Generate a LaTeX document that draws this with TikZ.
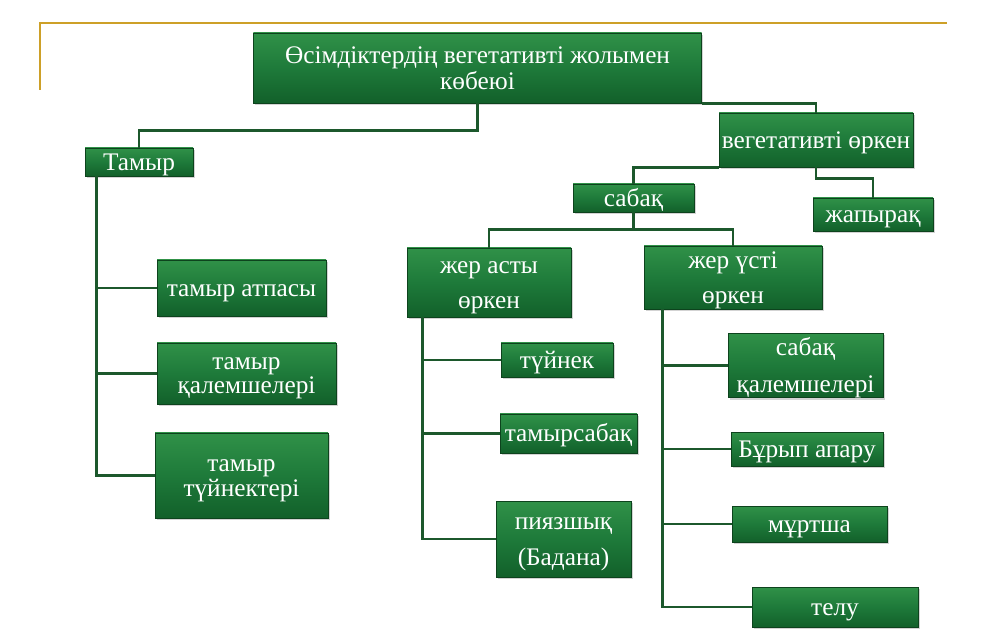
\documentclass[tikz,border=0pt]{standalone}
\usepackage{fontspec}
\setmainfont{Liberation Serif}
\usetikzlibrary{shadows}

\definecolor{boxgreen}{RGB}{30,122,58}
\definecolor{boxtop}{RGB}{48,145,72}
\definecolor{boxbot}{RGB}{18,96,42}
\definecolor{linegreen}{RGB}{28,88,44}
\definecolor{gold}{RGB}{205,160,40}

% жол биіктігі
\newcommand\bxtop{\rule{0pt}{16pt}}
\newcommand\bxbot{\rule[-4pt]{0pt}{4pt}}

\begin{document}
\begin{tikzpicture}[x=0.25mm, y=-0.25mm,
  box/.style={draw=boxbot!70!black, line width=0.5pt, top color=boxtop, bottom color=boxbot,
    middle color=boxgreen, text=white, align=center, inner sep=0pt,
    font=\fontsize{18}{17}\selectfont,
    drop shadow={opacity=0.35, shadow xshift=1.2pt, shadow yshift=-1.2pt}},
  link/.style={draw=linegreen, line width=2pt}]
  \useasboundingbox (0,0) rectangle (1004,640);

  % рамка
  \draw[gold, line width=1.8pt] (40,90) -- (40,23) -- (947,23);

  % түбір
  \node[box, minimum width=112mm, minimum height=17.5mm] (main) at (477.5,68)
    {\bxtop Өсімдіктердің вегетативті жолымен\\[1pt] көбеюі\bxbot};

  % тамыр тармағы
  \node[box, minimum width=27mm, minimum height=7mm] (tamyr) at (139,162) {\bxtop Тамыр\bxbot};
  \node[box, minimum width=42.25mm, minimum height=14mm] (atpasy) at (241.5,288) {\bxtop тамыр атпасы\bxbot};
  \node[box, minimum width=44.75mm, minimum height=15.25mm] (qalem) at (246.5,373.5) {\bxtop тамыр\\ қалемшелері\bxbot};
  \node[box, minimum width=43.25mm, minimum height=21.25mm] (tuinekter) at (241.5,475.5) {\bxtop тамыр\\[1pt] түйнектері\bxbot};

  % өркен тармағы
  \node[box, minimum width=48.5mm, minimum height=13.5mm] (veg) at (816,140) {\bxtop вегетативті өркен\bxbot};
  \node[box, minimum width=30.25mm, minimum height=6.5mm] (sabaq) at (633.5,198) {\bxtop сабақ\bxbot};
  \node[box, minimum width=30mm, minimum height=8.25mm] (zhap) at (873,214.5) {\bxtop жапырақ\bxbot};

  \node[box, minimum width=41mm, minimum height=17.25mm] (zhast) at (489,282.5) {\bxtop жер асты\\[8pt] өркен\bxbot};
  \node[box, minimum width=44.5mm, minimum height=14.75mm] (zhust) at (733,277.5) {\bxtop жер үсті\\[8pt] өркен\bxbot};

  \node[box, minimum width=28mm, minimum height=8.5mm] (tuinek) at (557,360) {\bxtop түйнек\bxbot};
  \node[box, minimum width=34.25mm, minimum height=9.75mm] (tsabaq) at (568.5,433.5) {\bxtop тамырсабақ\bxbot};
  \node[box, minimum width=33.75mm, minimum height=19mm] (piyaz) at (563.5,539) {\bxtop пиязшық\\[9pt] (Бадана)\bxbot};

  \node[box, minimum width=38.75mm, minimum height=15.75mm] (sqalem) at (805.5,365.5) {\bxtop сабақ\\[9pt] қалемшелері\bxbot};
  \node[box, minimum width=38mm, minimum height=8.5mm] (burip) at (807,449) {\bxtop Бұрып апару\bxbot};
  \node[box, minimum width=38.75mm, minimum height=9mm] (murtsha) at (809.5,524) {\bxtop мұртша\bxbot};
  \node[box, minimum width=41.5mm, minimum height=10mm] (telu) at (835,607) {\bxtop телу\bxbot};

  % байланыстар
  \draw[link] (main.south) -- ++(0,27) -| (tamyr.north);
  \draw[link] (main.south east) -| (veg.north);
  \draw[link] ([xshift=3mm]tamyr.south west) |- (atpasy.west);
  \draw[link] ([xshift=3mm]tamyr.south west) |- (qalem.west);
  \draw[link] ([xshift=3mm]tamyr.south west) |- (tuinekter.west);

  \draw[link] (veg.south west) -| (sabaq.north);
  \draw[link] (veg.south) -- ++(0,11) -| (zhap.north);
  \draw[link] (sabaq.south) -- ++(0,17) -| (zhast.north);
  \draw[link] (sabaq.south) -- ++(0,17) -| (zhust.north);

  \draw[link] ([xshift=4mm]zhast.south west) |- (tuinek.west);
  \draw[link] ([xshift=4mm]zhast.south west) |- (tsabaq.west);
  \draw[link] ([xshift=4mm]zhast.south west) |- (piyaz.west);

  \draw[link] ([xshift=4.75mm]zhust.south west) |- (sqalem.west);
  \draw[link] ([xshift=4.75mm]zhust.south west) |- (burip.west);
  \draw[link] ([xshift=4.75mm]zhust.south west) |- (murtsha.west);
  \draw[link] ([xshift=4.75mm]zhust.south west) |- (telu.west);
\end{tikzpicture}
\end{document}
